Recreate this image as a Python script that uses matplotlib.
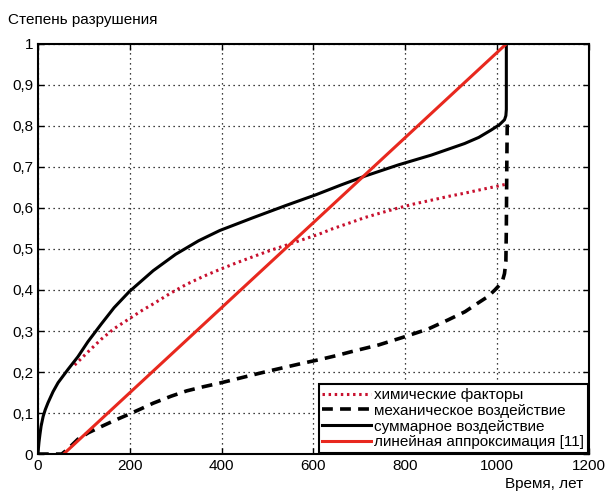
import matplotlib
matplotlib.use('Agg')
import matplotlib.pyplot as plt
from matplotlib.ticker import FuncFormatter

plt.rcParams['font.family'] = ['Liberation Sans', 'DejaVu Sans']

# химические факторы
t_chem = [80, 110, 138, 165, 195, 228, 251, 290, 324, 360, 396, 432, 468, 505, 540, 569,
          612, 641, 680, 713, 750, 785, 820, 857, 893, 929, 970, 1000, 1016, 1020]
chem = [0.217, 0.25, 0.28, 0.305, 0.327, 0.351, 0.366, 0.393, 0.414, 0.433, 0.45, 0.466,
        0.481, 0.496, 0.509, 0.52, 0.536, 0.549, 0.564, 0.577, 0.589, 0.6, 0.61, 0.619,
        0.628, 0.636, 0.646, 0.653, 0.657, 0.658]

# механическое воздействие
t_mech = [0, 30, 52, 65, 87, 110, 138, 165, 194, 224, 251, 290, 324, 360, 396, 432, 468,
          505, 540, 575, 612, 650, 684, 742, 796, 850, 893, 930, 958, 980, 995, 1005, 1012,
          1016, 1019, 1020, 1021, 1022]
mech = [0, 0, 0, 0.012, 0.036, 0.052, 0.067, 0.081, 0.095, 0.11, 0.124, 0.141, 0.154, 0.164,
        0.173, 0.183, 0.193, 0.203, 0.212, 0.221, 0.23, 0.24, 0.25, 0.266, 0.285, 0.305,
        0.327, 0.347, 0.368, 0.384, 0.40, 0.412, 0.424, 0.44, 0.47, 0.55, 0.7, 0.81]

# суммарное воздействие
t_sum = [0, 1, 2.5, 4.5, 7, 11.5, 16, 22, 33, 44, 66, 87, 109, 138, 166, 199, 251, 300, 350,
         396, 468, 540, 605, 660, 713, 785, 857, 929, 960, 987, 1005, 1016, 1019, 1020, 1020]
total = [0, 0.012, 0.03, 0.048, 0.068, 0.092, 0.108, 0.125, 0.152, 0.174, 0.207, 0.237,
         0.274, 0.317, 0.357, 0.396, 0.447, 0.487, 0.52, 0.545, 0.576, 0.606, 0.632, 0.656,
         0.678, 0.705, 0.729, 0.757, 0.772, 0.79, 0.803, 0.815, 0.825, 0.84, 1.0]

# линейная аппроксимация
t_lin = [56, 1020]
lin = [0, 1]

fig = plt.figure(figsize=(6.11, 4.93), dpi=100)
ax = fig.add_axes([0.062, 0.079, 0.902, 0.832])

ax.plot(t_chem, chem, color='#c8102e', lw=2.2, linestyle=(0, (0.8, 1.2)),
        label='химические факторы')
ax.plot(t_mech, mech, color='black', lw=2.6, linestyle=(0, (3, 2)),
        label='механическое воздействие')
ax.plot(t_sum, total, color='black', lw=2.2, label='суммарное воздействие')
ax.plot(t_lin, lin, color='#e8281e', lw=2.2, label='линейная аппроксимация [11]')

ax.set_xlim(0, 1200)
ax.set_ylim(0, 1)
ax.set_xticks(range(0, 1201, 200))
ax.set_yticks([i / 10 for i in range(11)])
ax.yaxis.set_major_formatter(FuncFormatter(
    lambda v, p: '0' if v == 0 else ('1' if v == 1 else ('%.1f' % v).replace('.', ','))))
ax.tick_params(direction='in', labelsize=11, length=4, width=1, top=True, right=True)
ax.grid(True, color='black', linestyle=(0, (1, 3)), lw=0.9)
for s in ax.spines.values():
    s.set_linewidth(1.5)

fig.text(0.013, 0.96, 'Степень разрушения', fontsize=11, va='center', ha='left')
fig.text(0.954, 0.005, 'Время, лет', fontsize=11, va='bottom', ha='right')

leg = ax.legend(loc='lower right', fontsize=11, frameon=True, fancybox=False,
                borderaxespad=0.05, handlelength=3.2, handletextpad=0.2,
                labelspacing=0.12, borderpad=0.25)
leg.get_frame().set_edgecolor('black')
leg.get_frame().set_linewidth(1.5)
leg.get_frame().set_alpha(1)

fig.savefig('out.png', dpi=100)
